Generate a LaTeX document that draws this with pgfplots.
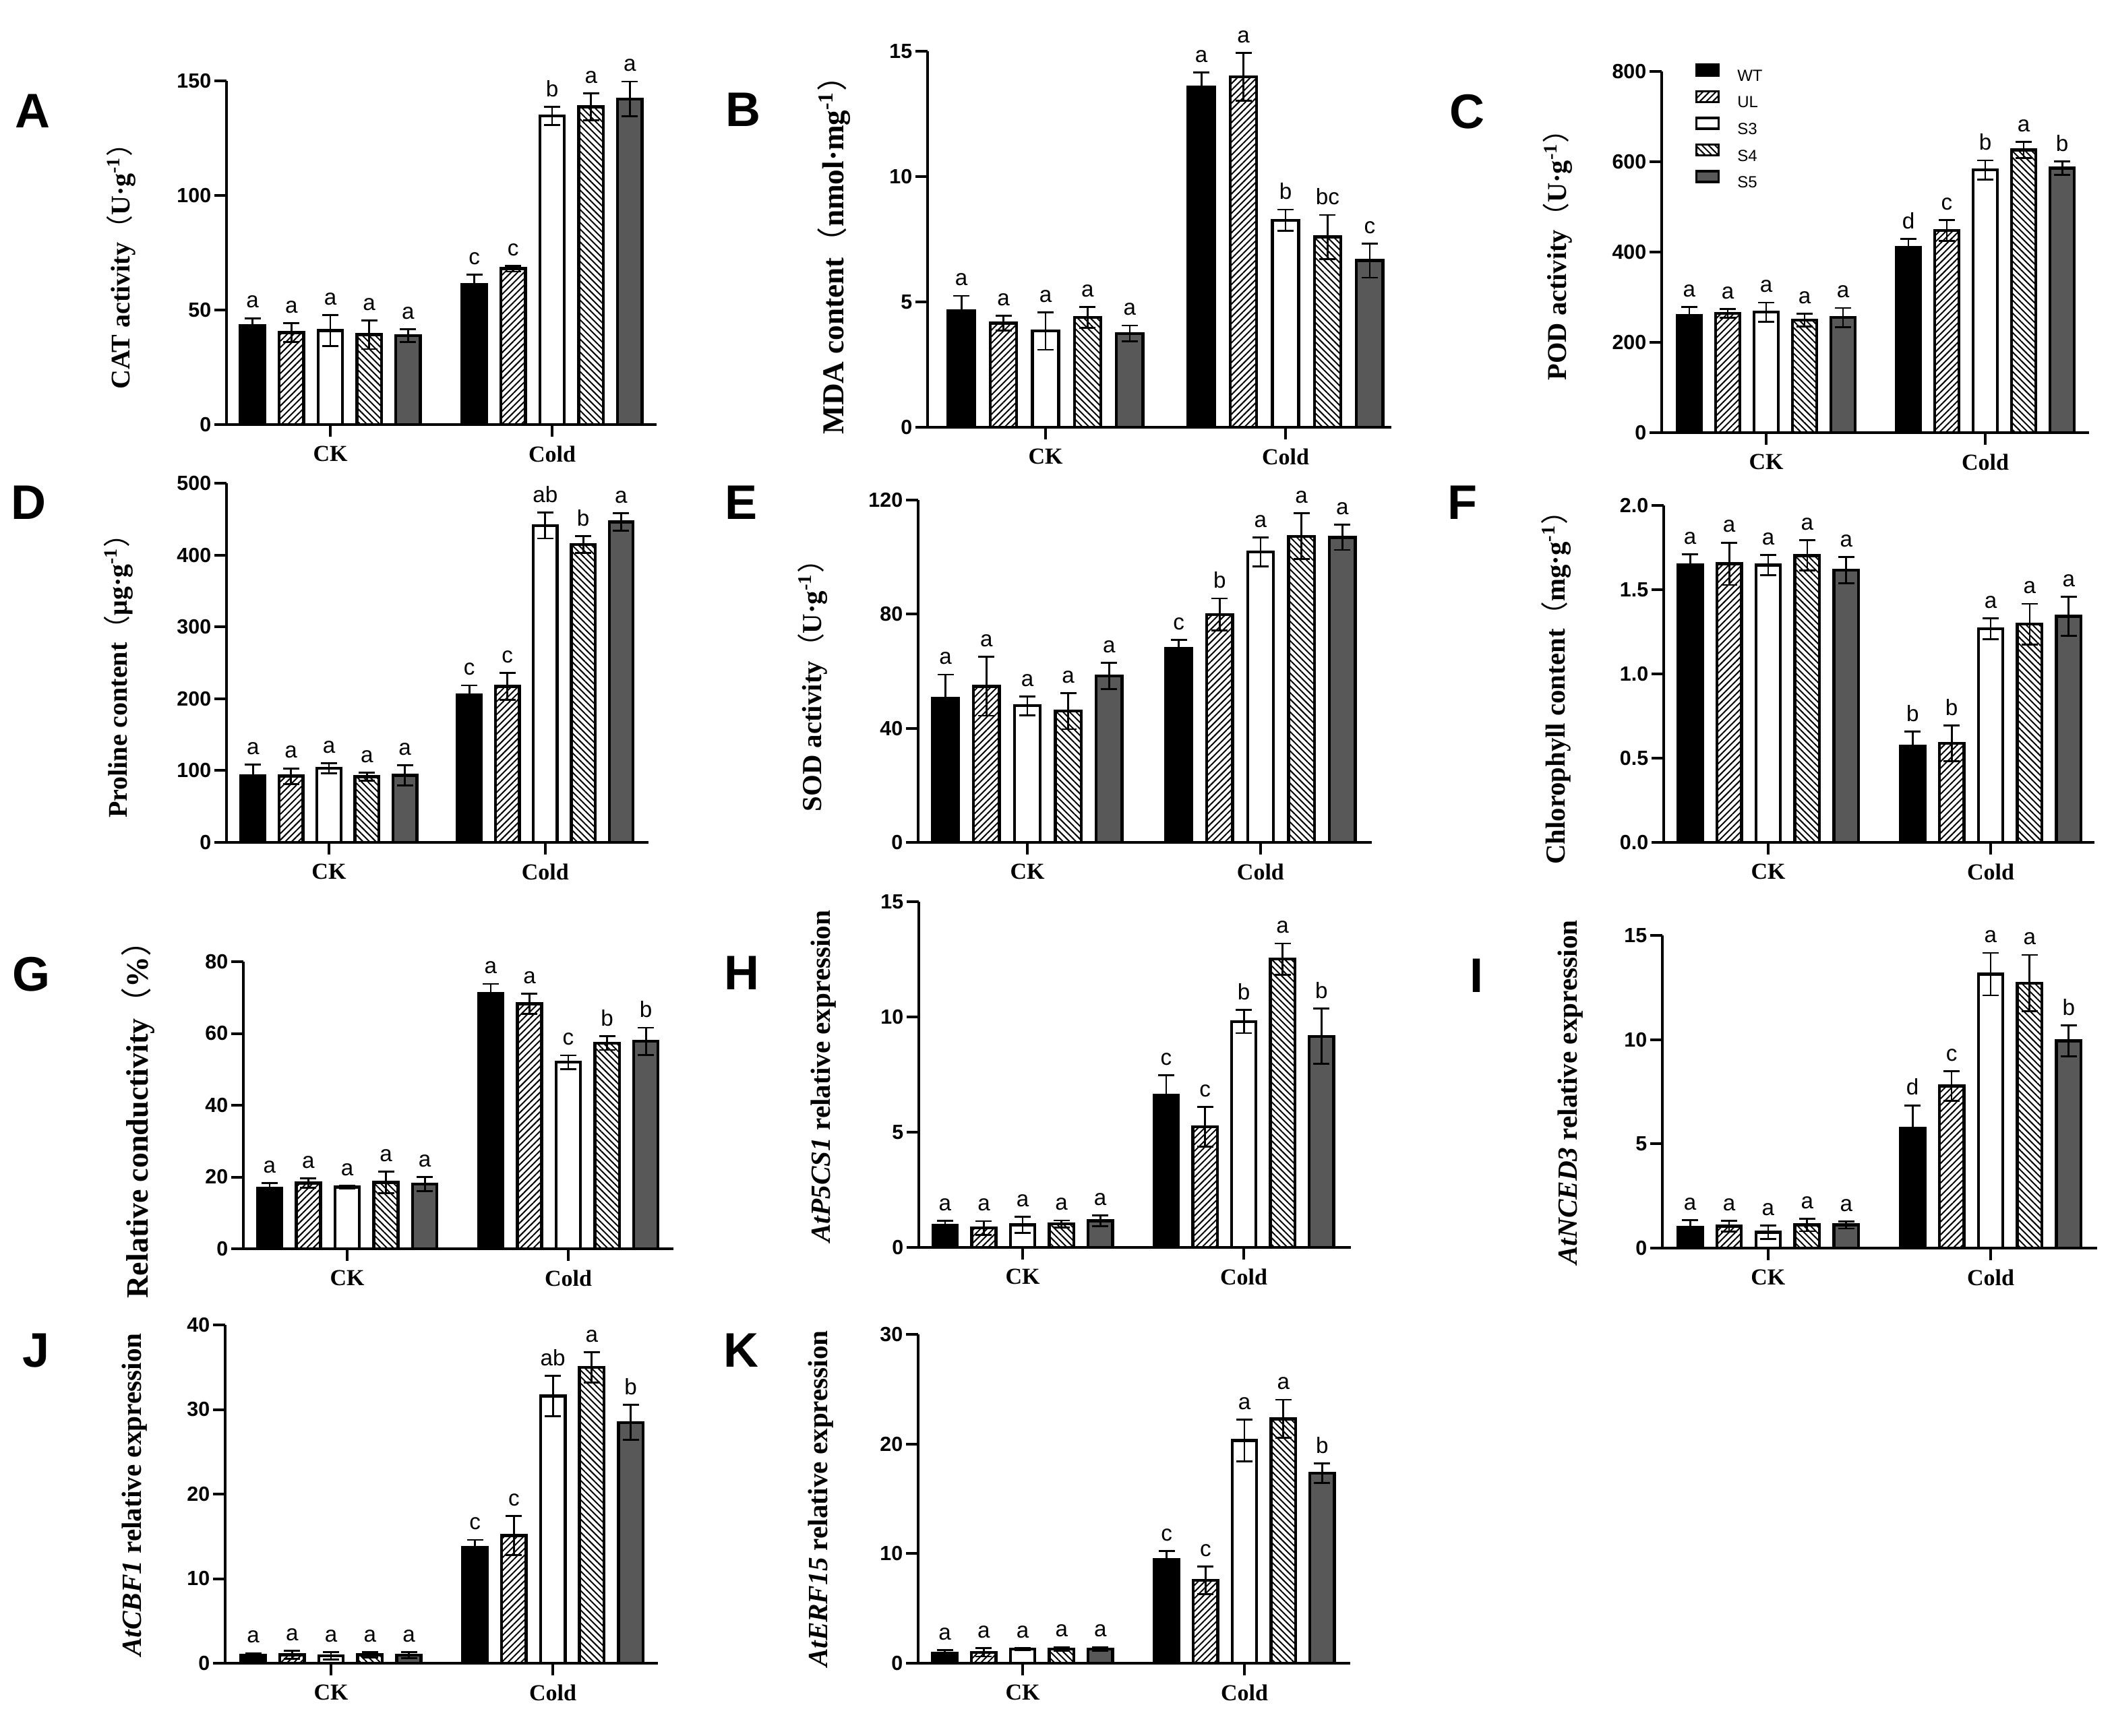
\documentclass[border=0pt]{standalone}
\usepackage{fontspec}
\setmainfont{Liberation Sans}
\newfontfamily\tnr{Liberation Serif}
\newfontfamily\cjk{Noto Sans CJK SC}
\usepackage{pgfplots}
\pgfplotsset{compat=1.18}
\usepackage{pgfplotstable}
\usetikzlibrary{patterns.meta}
\definecolor{sfive}{RGB}{88,88,88}

\newcommand\letfont{\fontsize{8.3}{9}\selectfont}
\newcommand\labfont[1]{\tnr\bfseries\fontsize{#1}{#1}\selectfont}
\newcommand\pl{\bfseries\fontsize{18}{18}\selectfont}
\newcommand\unit[1]{{\mdseries\cjk （}#1{\mdseries\cjk ）}}

\pgfplotstableread{
x wt wte wtl ul ule ull s3 s3e s3l s4 s4e s4l s5 s5e s5l
0 43.0 3.4 a 40.1 4.2 a 41.0 6.8 a 39.2 6.3 a 38.8 2.8 a
5.7 61.2 4.2 c 68.0 1.3 c 134.6 4.0 b 138.6 5.8 a 142.0 7.6 a
}\tabA
\pgfplotstableread{
x wt wte wtl ul ule ull s3 s3e s3l s4 s4e s4l s5 s5e s5l
0 4.64 0.6 a 4.15 0.3 a 3.84 0.75 a 4.38 0.42 a 3.74 0.32 a
5.7 13.56 0.59 a 13.98 0.96 a 8.26 0.42 b 7.59 0.88 bc 6.65 0.68 c
}\tabB
\pgfplotstableread{
x wt wte wtl ul ule ull s3 s3e s3l s4 s4e s4l s5 s5e s5l
0 258.7 19.6 a 264 10 a 267 21 a 249 14 a 255 21 a
5.7 410 19.5 d 448 23 c 582 21 b 626 18 a 586 14.6 b
}\tabC
\pgfplotstableread{
x wt wte wtl ul ule ull s3 s3e s3l s4 s4e s4l s5 s5e s5l
0 92.3 16 a 92.3 10.8 a 103 7 a 91.5 5.8 a 93.5 14.2 a
5.7 205 13.5 c 217.3 18.8 c 441 18 ab 414.6 11.5 b 446 12.3 a
}\tabD
\pgfplotstableread{
x wt wte wtl ul ule ull s3 s3e s3l s4 s4e s4l s5 s5e s5l
0 50.6 8.2 a 54.7 10.3 a 47.9 3.3 a 46.0 6.3 a 58.4 4.6 a
5.7 67.9 3.1 c 79.9 5.6 b 101.8 5.0 a 107.3 8.0 a 106.9 4.4 a
}\tabE
\pgfplotstableread{
x wt wte wtl ul ule ull s3 s3e s3l s4 s4e s4l s5 s5e s5l
0 1.647 0.064 a 1.655 0.126 a 1.647 0.061 a 1.704 0.09 a 1.617 0.077 a
5.7 0.57 0.09 b 0.588 0.107 b 1.269 0.061 a 1.296 0.121 a 1.343 0.115 a
}\tabF
\pgfplotstableread{
x wt wte wtl ul ule ull s3 s3e s3l s4 s4e s4l s5 s5e s5l
0 16.85 1.4 a 18.3 1.3 a 17.2 0.4 a 18.5 3.0 a 18.0 2.0 a
5.7 71.2 2.6 a 68.3 2.8 a 52.0 1.9 c 57.3 1.9 b 57.8 3.8 b
}\tabG
\pgfplotstableread{
x wt wte wtl ul ule ull s3 s3e s3l s4 s4e s4l s5 s5e s5l
0 0.96 0.2 a 0.84 0.3 a 0.98 0.34 a 1.02 0.15 a 1.16 0.24 a
5.7 6.61 0.85 c 5.23 0.87 c 9.80 0.5 b 12.51 0.68 a 9.16 1.2 b
}\tabH
\pgfplotstableread{
x wt wte wtl ul ule ull s3 s3e s3l s4 s4e s4l s5 s5e s5l
0 0.98 0.37 a 1.05 0.26 a 0.755 0.33 a 1.11 0.3 a 1.11 0.17 a
5.7 5.75 1.1 d 7.78 0.71 c 13.14 1.02 a 12.71 1.35 a 9.94 0.75 b
}\tabI
\pgfplotstableread{
x wt wte wtl ul ule ull s3 s3e s3l s4 s4e s4l s5 s5e s5l
0 0.94 0.26 a 1.0 0.45 a 0.88 0.42 a 1.0 0.3 a 0.94 0.35 a
5.7 13.7 0.88 c 15.1 2.33 c 31.6 2.4 ab 34.97 1.78 a 28.47 2.08 b
}\tabJ
\pgfplotstableread{
x wt wte wtl ul ule ull s3 s3e s3l s4 s4e s4l s5 s5e s5l
0 0.93 0.25 a 1.0 0.38 a 1.3 0.08 a 1.3 0.18 a 1.3 0.18 a
5.7 9.44 0.78 c 7.56 1.28 c 20.31 1.9 a 22.29 1.75 a 17.33 0.9 b
}\tabK

\pgfplotsset{
 eb/.style={error bars/y dir=both, error bars/y explicit,
   error bars/error bar style={line width=0.7pt, black, solid},
   error bars/error mark options={rotate=90, line width=0.7pt, black, solid, mark size=3pt}},
 barb/.style={ybar, bar shift=0pt, bar width=0.63, draw=black, line width=1.1pt, eb},
 wtbar/.style={barb, fill=black},
 ulbar/.style={barb, pattern={Lines[angle=45,distance=1.7pt,line width=0.5pt]}, pattern color=black},
 s3bar/.style={barb, fill=white},
 s4bar/.style={barb, pattern={Lines[angle=-45,distance=1.7pt,line width=0.5pt]}, pattern color=black},
 s5bar/.style={barb, fill=sfive},
 labp/.style={only marks, mark=*, mark size=0pt, mark options={draw=none,fill=none},
   point meta=explicit symbolic, nodes near coords={\pgfplotspointmeta},
   every node near coord/.append style={font=\letfont, anchor=south, inner sep=0pt, yshift=3.5pt, black}},
 panel/.style={scale only axis, clip=false,
   axis x line=bottom, axis y line=left,
   axis line style={-, line width=1.2pt, black},
   tick align=outside, major tick length=4.5pt,
   tick style={line width=1pt, black},
   xtick={2,7.7}, xticklabels={CK,Cold},
   x tick label style={font=\tnr\bfseries\fontsize{8.5}{9}\selectfont},
   y tick label style={font=\bfseries\fontsize{7.6}{8}\selectfont, inner sep=1pt},
   /pgf/number format/assume math mode=true,
   ymin=0, scaled y ticks=false,
   every axis y label/.style={rotate=90, anchor=center}},
}

\newcommand\drawpanel[1]{%
\addplot[wtbar] table[x=x,y=wt,y error=wte]{#1};
\addplot[ulbar] table[x expr=\thisrow{x}+1,y=ul,y error=ule]{#1};
\addplot[s3bar] table[x expr=\thisrow{x}+2,y=s3,y error=s3e]{#1};
\addplot[s4bar] table[x expr=\thisrow{x}+3,y=s4,y error=s4e]{#1};
\addplot[s5bar] table[x expr=\thisrow{x}+4,y=s5,y error=s5e]{#1};
\addplot[labp] table[x=x,y expr=\thisrow{wt}+\thisrow{wte},meta=wtl]{#1};
\addplot[labp] table[x expr=\thisrow{x}+1,y expr=\thisrow{ul}+\thisrow{ule},meta=ull]{#1};
\addplot[labp] table[x expr=\thisrow{x}+2,y expr=\thisrow{s3}+\thisrow{s3e},meta=s3l]{#1};
\addplot[labp] table[x expr=\thisrow{x}+3,y expr=\thisrow{s4}+\thisrow{s4e},meta=s4l]{#1};
\addplot[labp] table[x expr=\thisrow{x}+4,y expr=\thisrow{s5}+\thisrow{s5e},meta=s5l]{#1};
}

\begin{document}
\begin{tikzpicture}
\useasboundingbox (0,0) rectangle (784pt,-644pt);

% A
\begin{axis}[panel, at={(84pt,-157.5pt)}, width=159.5pt, height=127.6pt,
  xmin=-0.668, xmax=10.385, ymax=150, ytick={0,50,100,150},
  ylabel={CAT activity\unit{U·g\textsuperscript{-1}}},
  ylabel style={font=\labfont{10}, at={(axis description cs:-0.245,0.48)}}]
\drawpanel{\tabA}
\end{axis}
% B
\begin{axis}[panel, at={(344pt,-158.5pt)}, width=172pt, height=139.5pt,
  xmin=-0.802, xmax=10.214, ymax=15, ytick={0,5,10,15},
  ylabel={MDA content\unit{nmol·mg\textsuperscript{-1}}},
  ylabel style={font=\labfont{11.3}, at={(axis description cs:-0.202,0.478)}}]
\drawpanel{\tabB}
\end{axis}
% C
\begin{axis}[panel, at={(616.25pt,-160.5pt)}, width=158.5pt, height=134pt,
  xmin=-0.718, xmax=10.40, ymax=800, ytick={0,200,400,600,800},
  ylabel={POD activity\unit{U·g\textsuperscript{-1}}},
  ylabel style={font=\labfont{10.1}, at={(axis description cs:-0.243,0.511)}},
  legend entries={WT,UL,S3,S4,S5},
  legend image code/.code={\draw[#1, line width=0.9pt] (0pt,0pt) rectangle (8.25pt,4pt);},
  legend cell align=left,
  legend style={at={(axis description cs:0.077,1.024)}, anchor=north west, draw=none, fill=none,
    inner sep=0pt, font=\fontsize{6}{7}\selectfont, row sep=3.3pt, column sep=6.5pt,
    nodes={inner sep=0pt, text height=4.3pt, text depth=0pt}}]
\drawpanel{\tabC}
\end{axis}
% D
\begin{axis}[panel, at={(84pt,-312.5pt)}, width=156.5pt, height=133.25pt,
  xmin=-0.70, xmax=10.42, ymax=500, ytick={0,100,200,300,400,500},
  ylabel={Proline content\unit{μg·g\textsuperscript{-1}}},
  ylabel style={font=\labfont{10}, at={(axis description cs:-0.256,0.482)}}]
\drawpanel{\tabD}
\end{axis}
% E
\begin{axis}[panel, at={(340.5pt,-312.5pt)}, width=168.25pt, height=127pt,
  xmin=-0.669, xmax=10.42, ymax=120, ytick={0,40,80,120},
  ylabel={SOD activity\unit{U·g\textsuperscript{-1}}},
  ylabel style={font=\labfont{10.2}, at={(axis description cs:-0.233,0.478)}}]
\drawpanel{\tabE}
\end{axis}
% F
\begin{axis}[panel, at={(617pt,-312.5pt)}, width=159.75pt, height=124.9pt,
  xmin=-0.677, xmax=10.36, ymax=2, ytick={0,0.5,1,1.5,2},
  yticklabel style={/pgf/number format/fixed, /pgf/number format/fixed zerofill, /pgf/number format/precision=1},
  ylabel={Chlorophyll content\unit{mg·g\textsuperscript{-1}}},
  ylabel style={font=\labfont{10.2}, at={(axis description cs:-0.25,0.48)}}]
\drawpanel{\tabF}
\end{axis}
% G
\begin{axis}[panel, at={(90.25pt,-463.25pt)}, width=159.5pt, height=106.5pt,
  xmin=-0.676, xmax=10.41, ymax=80, ytick={0,20,40,60,80},
  ylabel={Relative conductivity\unit{\%}},
  ylabel style={font=\labfont{11.5}, at={(axis description cs:-0.245,0.477)}}]
\drawpanel{\tabG}
\end{axis}
% H
\begin{axis}[panel, at={(340.75pt,-462.75pt)}, width=160.25pt, height=128.25pt,
  xmin=-0.676, xmax=10.46, ymax=15, ytick={0,5,10,15},
  ylabel={\textit{AtP5CS1} relative expression},
  ylabel style={font=\labfont{10.3}, at={(axis description cs:-0.22,0.495)}}]
\drawpanel{\tabH}
\end{axis}
% I
\begin{axis}[panel, at={(616.5pt,-463pt)}, width=161.25pt, height=116pt,
  xmin=-0.71, xmax=10.43, ymax=15, ytick={0,5,10,15},
  ylabel={\textit{AtNCED3} relative expression},
  ylabel style={font=\labfont{10.3}, at={(axis description cs:-0.211,0.498)}}]
\drawpanel{\tabI}
\end{axis}
% J
\begin{axis}[panel, at={(83.5pt,-617pt)}, width=160.5pt, height=125.5pt,
  xmin=-0.72, xmax=10.40, ymax=40, ytick={0,10,20,30,40},
  ylabel={\textit{AtCBF1} relative expression},
  ylabel style={font=\labfont{10.3}, at={(axis description cs:-0.21,0.498)}}]
\drawpanel{\tabJ}
\end{axis}
% K
\begin{axis}[panel, at={(340.5pt,-617pt)}, width=160.25pt, height=122pt,
  xmin=-0.686, xmax=10.42, ymax=30, ytick={0,10,20,30},
  ylabel={\textit{AtERF15} relative expression},
  ylabel style={font=\labfont{10.3}, at={(axis description cs:-0.225,0.5)}}]
\drawpanel{\tabK}
\end{axis}

% panel letters
\node[font=\pl] at (12pt,-41.25pt) {A};
\node[font=\pl] at (275.5pt,-40.75pt) {B};
\node[font=\pl] at (544pt,-41.5pt) {C};
\node[font=\pl] at (10.5pt,-186.5pt) {D};
\node[font=\pl] at (274.75pt,-186.5pt) {E};
\node[font=\pl] at (542.25pt,-186.5pt) {F};
\node[font=\pl] at (11.75pt,-361.5pt) {G};
\node[font=\pl] at (275pt,-361pt) {H};
\node[font=\pl] at (547.5pt,-362pt) {I};
\node[font=\pl] at (13.5pt,-501pt) {J};
\node[font=\pl] at (274.75pt,-501pt) {K};
\end{tikzpicture}
\end{document}
